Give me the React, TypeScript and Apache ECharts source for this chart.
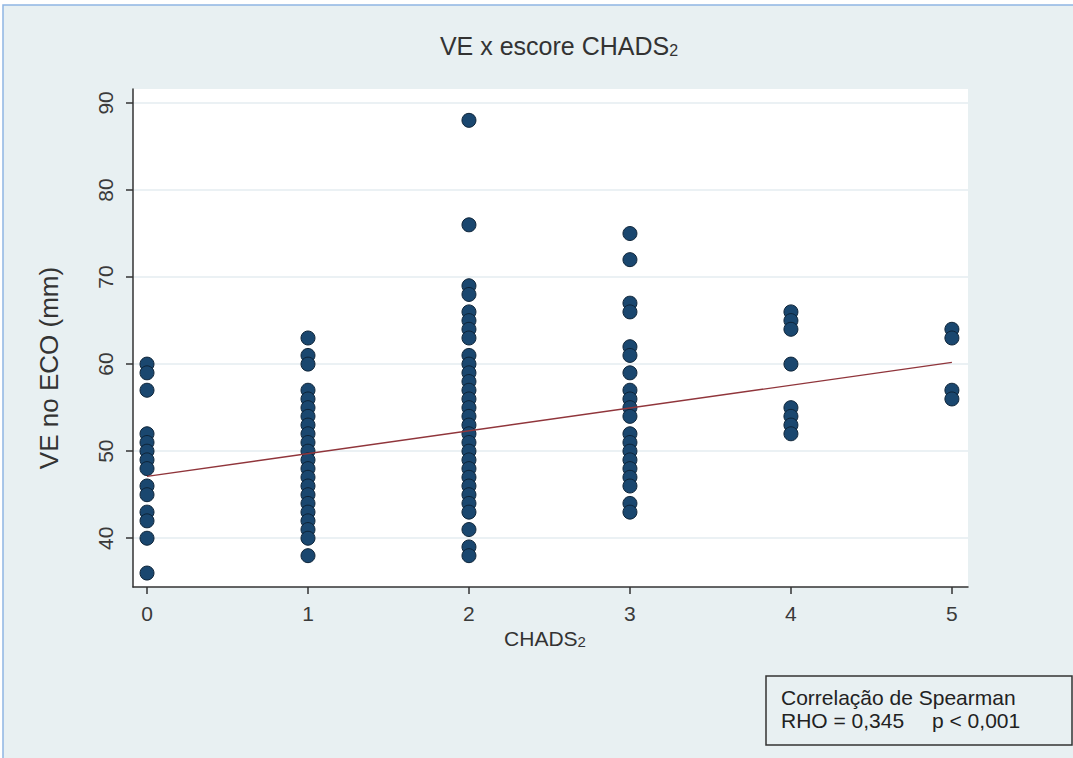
import React, { useEffect, useRef } from "react";
import * as echarts from "echarts";

// ---- data ----
const xTicks = [0, 1, 2, 3, 4, 5];
const yTicks = [40, 50, 60, 70, 80, 90];
const chads0 = [60, 59, 57, 52, 51, 50, 49, 48, 46, 45, 43, 42, 40, 36];
const chads1 = [63, 61, 60, 57, 56, 55, 54, 53, 52, 51, 50, 49, 48, 47, 46, 45, 44, 43, 42, 41, 40, 38];
const chads2 = [88, 76, 69, 68, 66, 65, 64, 63, 61, 60, 59, 58, 57, 56, 55, 54, 53, 52, 51, 50, 49, 48, 47, 46, 45, 44, 43, 41, 39, 38];
const chads3 = [75, 72, 67, 66, 62, 61, 59, 57, 56, 55, 54, 52, 51, 50, 49, 48, 47, 46, 44, 43];
const chads4 = [66, 65, 64, 60, 55, 54, 53, 52];
const chads5 = [64, 63, 57, 56];
const fitX = [0, 5];
const fitY = [47.1, 60.2];
const titleMain = "VE x escore CHADS";
const xTitle = "CHADS";
const yTitle = "VE no ECO (mm)";
const boxLine1 = "Correlação de Spearman";
const boxRho = "RHO = 0,345";
const boxP = "p < 0,001";

const FONT = "'Liberation Sans', Arial, sans-serif";

export default function App() {
  const ref = useRef<HTMLDivElement>(null);
  useEffect(() => {
    if (!ref.current) return;
    const chart = echarts.init(ref.current, undefined, { renderer: "svg" });
    const groups = [chads0, chads1, chads2, chads3, chads4, chads5];
    const points: number[][] = [];
    groups.forEach((g, i) => g.forEach((v) => points.push([xTicks[i], v])));
    const fit = fitX.map((x, i) => [x, fitY[i]]);

    chart.setOption({
      animation: false,
      backgroundColor: "#ffffff",
      grid: {
        left: 133,
        right: 105,
        top: 89,
        bottom: 171,
        show: true,
        backgroundColor: "#ffffff",
        borderWidth: 0,
      },
      xAxis: {
        type: "value",
        min: -0.087,
        max: 5.1,
        axisLine: { show: true, onZero: false, lineStyle: { color: "#333", width: 1.5 } },
        axisTick: { show: true, length: 7, customValues: xTicks, lineStyle: { color: "#333", width: 1.5 } },
        axisLabel: {
          customValues: xTicks,
          margin: 16,
          fontSize: 21,
          fontFamily: FONT,
          color: "#3a3a3a",
        },
        splitLine: { show: false },
      },
      yAxis: {
        type: "value",
        min: 34.4,
        max: 91.6,
        axisLine: { show: true, onZero: false, lineStyle: { color: "#333", width: 1.5 } },
        axisTick: { show: true, length: 7, customValues: yTicks, lineStyle: { color: "#333", width: 1.5 } },
        axisLabel: {
          customValues: yTicks,
          rotate: 90,
          margin: 17,
          fontSize: 21,
          fontFamily: FONT,
          color: "#3a3a3a",
        },
        splitLine: { show: true, lineStyle: { color: "#e4edf0", width: 1.5 } },
      },
      series: [
        {
          type: "scatter",
          data: points,
          symbol: "circle",
          symbolSize: 14,
          itemStyle: { color: "#1a476f", borderColor: "#0e2438", borderWidth: 1, opacity: 1 },
          z: 3,
        },
        {
          type: "line",
          data: fit,
          symbol: "none",
          lineStyle: { color: "#90353b", width: 1.3 },
          z: 4,
        },
      ],
      graphic: [
        {
          type: "rect",
          z: -10,
          shape: { x: 3, y: 5, width: 1090, height: 780 },
          style: { fill: "#e8f0f2", stroke: "#8fb5e3", lineWidth: 1.5 },
        },
        {
          type: "text",
          z: 10,
          x: 559,
          y: 46,
          style: {
            text: "{a|" + titleMain + "}{s|2}",
            rich: {
              a: { fontSize: 25, fontFamily: FONT, fill: "#333" },
              s: { fontSize: 16, fontFamily: FONT, fill: "#333", padding: [9, 0, 0, 0] },
            },
            align: "center",
            verticalAlign: "middle",
          },
        },
        {
          type: "text",
          z: 10,
          x: 49,
          y: 368,
          rotation: Math.PI / 2,
          style: {
            text: yTitle,
            fontSize: 26,
            fontFamily: FONT,
            fill: "#333",
            align: "center",
            verticalAlign: "middle",
          },
        },
        {
          type: "text",
          z: 10,
          x: 545,
          y: 638,
          style: {
            text: "{a|" + xTitle + "}{s|2}",
            rich: {
              a: { fontSize: 21, fontFamily: FONT, fill: "#333" },
              s: { fontSize: 15, fontFamily: FONT, fill: "#333", padding: [7, 0, 0, 0] },
            },
            align: "center",
            verticalAlign: "middle",
          },
        },
        {
          type: "rect",
          z: 10,
          shape: { x: 766, y: 676, width: 306, height: 69 },
          style: { fill: "#e8f0f2", stroke: "#333", lineWidth: 1.5 },
        },
        {
          type: "text",
          z: 11,
          x: 781,
          y: 697,
          style: { text: boxLine1, fontSize: 21, fontFamily: FONT, fill: "#222", align: "left", verticalAlign: "middle" },
        },
        {
          type: "text",
          z: 11,
          x: 781,
          y: 720,
          style: { text: boxRho, fontSize: 21, fontFamily: FONT, fill: "#222", align: "left", verticalAlign: "middle" },
        },
        {
          type: "text",
          z: 11,
          x: 932,
          y: 720,
          style: { text: boxP, fontSize: 21, fontFamily: FONT, fill: "#222", align: "left", verticalAlign: "middle" },
        },
      ],
    });
    return () => chart.dispose();
  }, []);
  return (
    <div
      ref={ref}
      style={{ position: "absolute", left: 0, top: 0, width: 1073, height: 758 }}
    />
  );
}
